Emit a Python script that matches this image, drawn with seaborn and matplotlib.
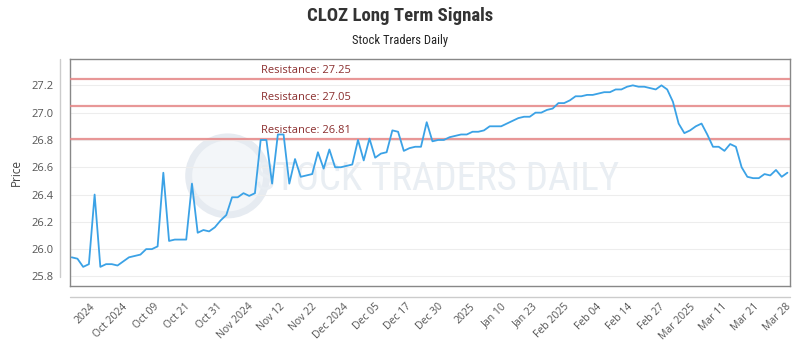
import numpy as np
import pandas as pd
import seaborn as sns
import matplotlib
matplotlib.use("Agg")
import matplotlib.pyplot as plt
from matplotlib.patches import Ellipse
from matplotlib import font_manager

# ---- data ----
prices = [
    25.94, 25.93, 25.87, 25.89, 26.40, 25.87, 25.89, 25.89, 25.88, 25.91,
    25.94, 25.95, 25.96, 26.00, 26.00, 26.02, 26.56, 26.06, 26.07, 26.07,
    26.07, 26.48, 26.12, 26.14, 26.13, 26.16, 26.21, 26.25, 26.38, 26.38,
    26.41, 26.39, 26.41, 26.80, 26.80, 26.48, 26.84, 26.84, 26.48, 26.66,
    26.53, 26.54, 26.55, 26.71, 26.59, 26.73, 26.60, 26.60, 26.61, 26.62,
    26.80, 26.65, 26.81, 26.67, 26.70, 26.71, 26.87, 26.86, 26.72, 26.74,
    26.75, 26.75, 26.93, 26.79, 26.80, 26.80, 26.82, 26.83, 26.84, 26.84,
    26.86, 26.86, 26.87, 26.90, 26.90, 26.90, 26.92, 26.94, 26.96, 26.97,
    26.97, 27.00, 27.00, 27.02, 27.03, 27.07, 27.07, 27.09, 27.12, 27.12,
    27.13, 27.13, 27.14, 27.15, 27.15, 27.17, 27.17, 27.19, 27.20, 27.19,
    27.19, 27.18, 27.17, 27.20, 27.17, 27.08, 26.92, 26.85, 26.87, 26.90,
    26.92, 26.84, 26.75, 26.75, 26.72, 26.77, 26.75, 26.60, 26.53, 26.52,
    26.52, 26.55, 26.54, 26.58, 26.53, 26.56,
]
resistance_levels = [27.25, 27.05, 26.81]
tick_labels = [
    "2024", "Oct 2024", "Oct 09", "Oct 21", "Oct 31", "Nov 2024", "Nov 12",
    "Nov 22", "Dec 2024", "Dec 05", "Dec 17", "Dec 30", "2025", "Jan 10",
    "Jan 23", "Feb 2025", "Feb 04", "Feb 14", "Feb 27", "Mar 2025", "Mar 11",
    "Mar 21", "Mar 28",
]
y_ticks = [25.8, 26.0, 26.2, 26.4, 26.6, 26.8, 27.0, 27.2]

df = pd.DataFrame({"idx": np.arange(len(prices)), "price": prices})

# pick a condensed family if one is installed
installed = {f.name for f in font_manager.fontManager.ttflist}
condensed = None
for cand in ["Roboto Condensed", "DejaVu Sans Condensed", "Liberation Sans Narrow",
             "Open Sans Condensed", "Noto Sans Display"]:
    if cand in installed:
        condensed = cand
        break

sns.set_theme(style="white")
plt.rcParams["font.family"] = ["Open Sans", "DejaVu Sans"]

fig = plt.figure(figsize=(8, 3.5), dpi=100)
ax = fig.add_axes([0.0875, 0.1829, 0.9, 0.6485])

if condensed:
    title_fam, title_size, sub_size, wm_size = [condensed, "DejaVu Sans"], 13.5, 9, 28
else:
    title_fam, title_size, sub_size, wm_size = ["DejaVu Sans"], 11, 7.5, 22

# watermark
ax.add_patch(Ellipse((0.219, 0.485), 78 / 720, 78 / 227, transform=ax.transAxes,
                     facecolor="#f3f6f9", edgecolor="#e6ebf1", lw=5, zorder=0))
ax.text(0.51, 0.467, "STOCK TRADERS DAILY", transform=ax.transAxes,
        ha="center", va="center", fontsize=wm_size, color="#e9eef3",
        family=title_fam, zorder=0)

# grid
for yv in y_ticks:
    ax.axhline(yv, color="#ededed", lw=0.8, zorder=1)

sns.lineplot(data=df, x="idx", y="price", ax=ax, color="#3ba2e6",
             linewidth=1.3, zorder=4)

for lvl in resistance_levels:
    ax.axhline(lvl, color="#e58585", lw=1.6, alpha=0.85, zorder=3)
    ax.text(33, lvl + 0.018, f"Resistance: {lvl:.2f}", color="#8b2e2e",
            fontsize=8, ha="left", va="bottom", zorder=5)

ax.set_xlim(-0.3, 125.45)
ax.set_ylim(25.730, 27.393)
ax.set_yticks(y_ticks)
ax.set_yticklabels([f"{v:.1f}" for v in y_ticks], color="#555555", fontsize=8)
ax.set_xticks(np.linspace(3.2, 124.6, len(tick_labels)))
ax.set_xticklabels(tick_labels, rotation=45, ha="right",
                   rotation_mode="anchor", color="#555555", fontsize=7.5)
ax.tick_params(axis="y", length=0, pad=12)
ax.tick_params(axis="x", length=0, pad=11)
ax.set_xlabel("")
ax.set_ylabel("Price", fontsize=8.5, color="#444444", labelpad=6)

for s in ax.spines.values():
    s.set_visible(True)
    s.set_color("#888888")
    s.set_linewidth(1.0)

# extra axis lines
ax.plot([-0.0139, -0.0139], [0.04, 1.0], transform=ax.transAxes,
        color="#cccccc", lw=1, clip_on=False)
ax.plot([0.0, 1.0], [-0.048, -0.048], transform=ax.transAxes,
        color="#cccccc", lw=1, clip_on=False)

fig.text(0.5, 0.955, "CLOZ Long Term Signals", ha="center", va="center",
         fontsize=title_size, fontweight="bold", color="#333333",
         family=title_fam)
fig.text(0.5, 0.885, "Stock Traders Daily", ha="center", va="center",
         fontsize=sub_size, color="#222222", family=title_fam)

fig.savefig("out.png", dpi=100)
